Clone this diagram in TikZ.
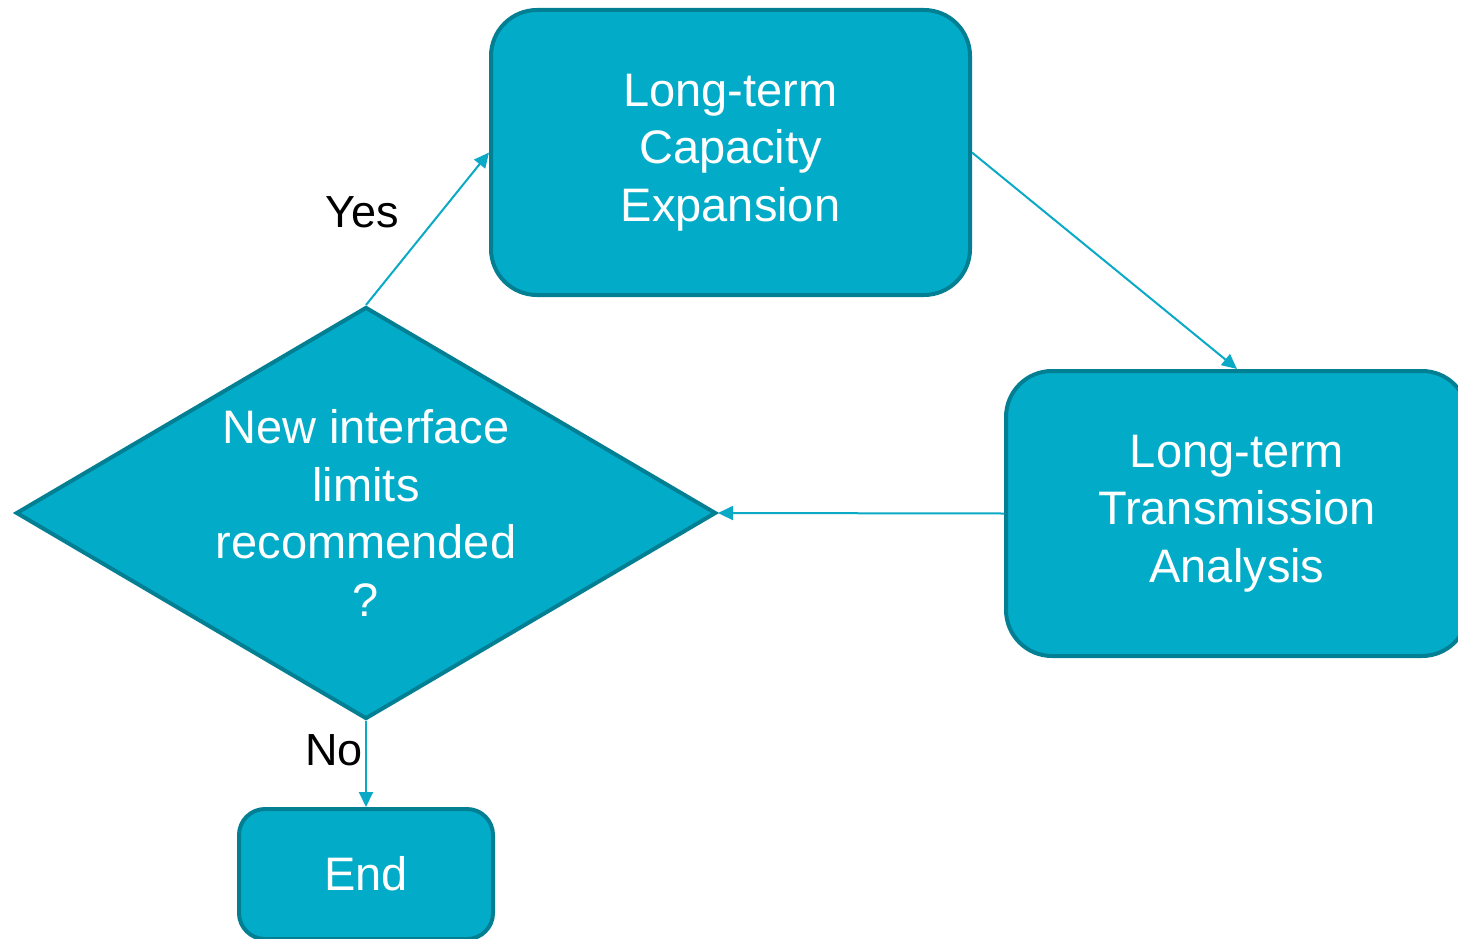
\documentclass[tikz,border=0pt]{standalone}
\usepackage{fontspec}
\setmainfont{Liberation Sans}
\usetikzlibrary{shapes.geometric, arrows.meta}
\definecolor{boxfill}{HTML}{02ACC8}
\definecolor{boxline}{HTML}{037F94}
\definecolor{arrowcol}{HTML}{0AAAC6}

\begin{document}
\begin{tikzpicture}[x=1pt, y=-1pt,
    box/.style={draw=boxline, fill=boxfill, line width=4pt, rounded corners=46pt,
        text=white, align=center, inner sep=0pt, font=\fontsize{47}{57.5}\selectfont},
    decision/.style={diamond, draw=boxline, fill=boxfill, line width=4pt, text=white,
        align=center, inner sep=0pt, aspect=1.7, font=\fontsize{47}{57.5}\selectfont},
    flow/.style={draw=arrowcol, line width=2pt, -{Triangle[length=15pt, width=14pt]}},
    answer/.style={font=\fontsize{45}{54}\selectfont, inner sep=0pt}]
    \useasboundingbox (0,0) rectangle (1458,939);
    \clip (0,0) rectangle (1458,939);

    \node[box, minimum width=479pt, minimum height=285pt] (ltce) at (730.5,152.5)
        {Long-term\\Capacity\\Expansion};
    \node[box, minimum width=462pt, minimum height=285pt] (ltta) at (1237,513.5)
        {Long-term\\Transmission\\Analysis};
    \node[decision, minimum width=700pt, minimum height=412pt] (dec) at (366,513)
        {New interface\\limits\\recommended\\?};
    \node[box, rounded corners=26pt, minimum width=254pt, minimum height=130pt] (end) at (366,874)
        {End};

    \draw[flow] (dec.north) -- (ltce.west);
    \draw[flow] (ltce.east) -- (ltta.north);
    \draw[flow] (ltta.west) -- (dec.east);
    \draw[flow] (dec.south) -- (end.north);

    \node[answer] (yes) at (362,212) {Yes};
    \node[answer] (no) at (334,750) {No};
\end{tikzpicture}
\end{document}
